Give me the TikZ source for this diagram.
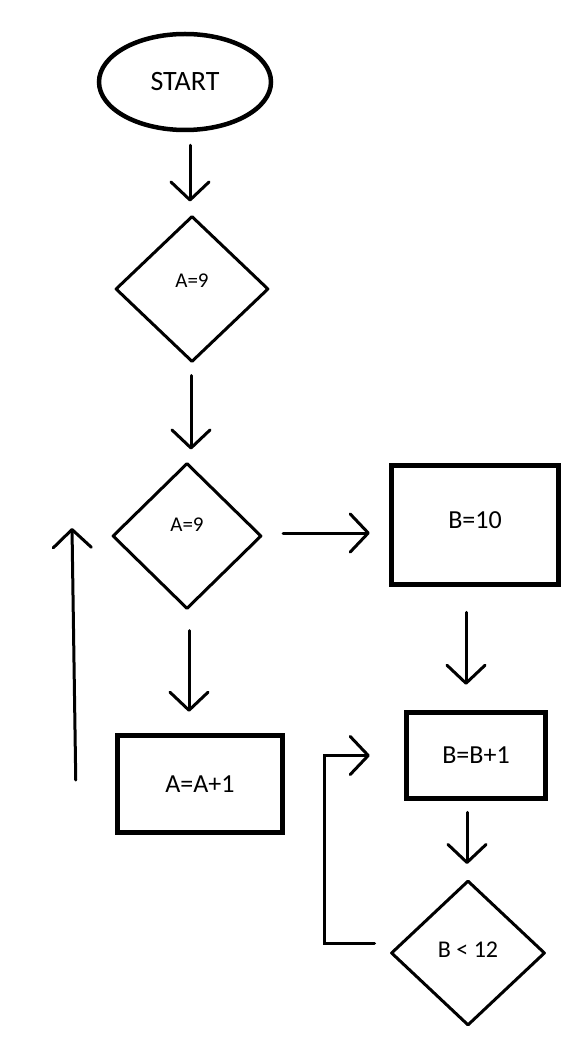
\documentclass[tikz,border=0pt]{standalone}
\usepackage{fontspec}
\setmainfont{Carlito}
\usetikzlibrary{shapes.geometric,arrows.meta,calc}
\newcommand\liftt[2]{\raisebox{#1}[\height][\depth]{#2}}
\begin{document}
\begin{tikzpicture}[x=1pt,y=-1pt,
  every node/.style={inner sep=0pt,text=black},
  startshape/.style={ellipse,draw,line width=4.5pt,minimum width=172pt,minimum height=96pt,font=\fontsize{28}{30}\selectfont},
  decision/.style={diamond,draw,line width=3pt,line join=round,font=\fontsize{21}{24}\selectfont},
  process/.style={rectangle,draw,line width=5.5pt,font=\fontsize{26}{30}\selectfont},
  arr/.style={line width=3pt,line cap=round,-{Straight Barb[length=18pt,width=38pt,line width=3pt,round]}}
]
\useasboundingbox[fill=white] (0,0) rectangle (582,1056);

\node[startshape] (start) at (185,82) {START};
\node[decision,minimum width=153pt,minimum height=146pt] (d1) at (192,289) {\liftt{8pt}{A=9}};
\node[decision,minimum width=149pt,minimum height=146pt] (d2) at (187,536) {\liftt{11pt}{A=9}};
\node[process,minimum width=167pt,minimum height=119pt] (b10) at (475,525) {\liftt{5pt}{B=10}};
\node[process,minimum width=165pt,minimum height=97pt] (aa1) at (200,784) {A=A+1};
\node[process,minimum width=139pt,minimum height=86pt] (bb1) at (476,755.5) {B=B+1};
\node[decision,minimum width=154pt,minimum height=145pt,font=\fontsize{24}{28}\selectfont] (d3) at (468,953) {\liftt{3pt}{B < 12}};

\draw[arr,shorten <=13pt,shorten >=13pt] ([xshift=5pt]start.south) -- ([xshift=5pt]start.south |- d1.north);
\draw[arr,shorten <=12pt,shorten >=12pt] ([xshift=-1pt]d1.south) -- ([xshift=-1pt]d1.south |- d2.north);
\draw[arr,shorten <=20pt,shorten >=19pt] ([yshift=3pt]d2.east) -- ([yshift=3pt]d2.east -| b10.west);
\draw[arr,shorten <=20pt,shorten >=21pt] ([xshift=2pt]d2.south) -- ([xshift=2pt]d2.south |- aa1.north);
\draw[arr,shorten <=25pt,shorten >=25pt] ([xshift=-9pt]b10.south) -- ([xshift=-9pt]b10.south |- bb1.north);
\draw[arr,shorten <=11pt,shorten >=15pt] ([xshift=-9pt]bb1.south) -- ([xshift=-9pt]bb1.south |- d3.north);
\draw[arr,shorten <=15pt,shorten >=34pt] ([yshift=10pt]d3.west) -- ++(-65,0) |- (bb1.west);
\draw[arr] ($(aa1.west)+(-39,-4)$) -- ($(d2.west)+(-39,-8)$);
\end{tikzpicture}
\end{document}
